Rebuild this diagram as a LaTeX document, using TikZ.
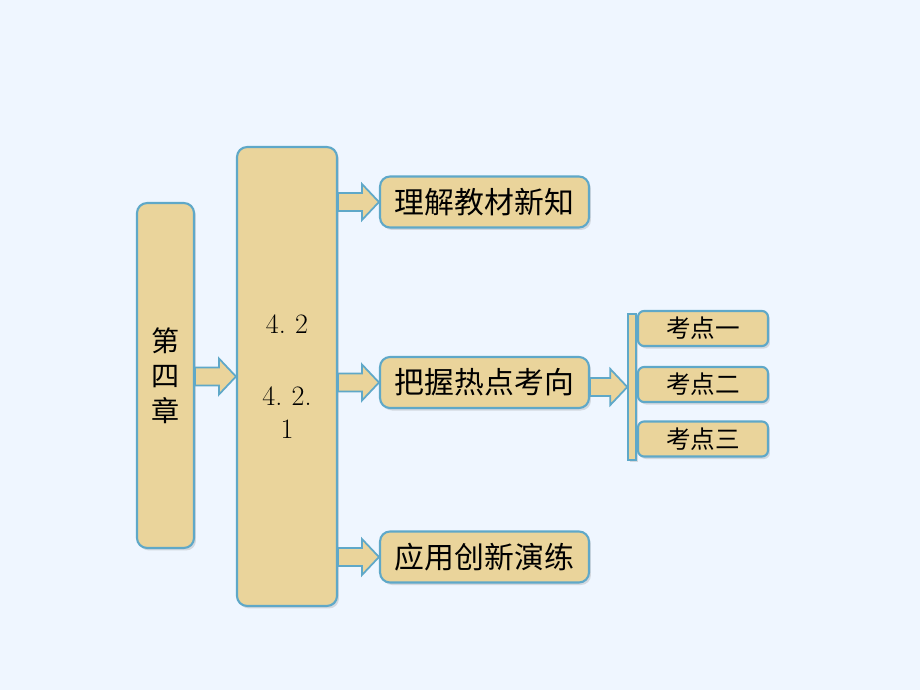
\documentclass[tikz,border=0pt]{standalone}
\usepackage{fontspec}
\newfontfamily\cjk{Noto Sans CJK SC}
\usepackage{tikz}
\usetikzlibrary{calc,shadows,positioning}

\definecolor{paper}{RGB}{234,212,155}
\definecolor{rim}{RGB}{95,168,200}
\definecolor{sky}{RGB}{239,246,255}

\tikzset{
  box/.style={draw=rim, fill=paper, line width=1.2pt, rounded corners=0.2cm,
    drop shadow={opacity=0.25, shadow xshift=0.04cm, shadow yshift=-0.05cm},
    inner sep=0pt, align=center},
  smallbox/.style={box, rounded corners=0.12cm, minimum width=2.6cm, minimum height=0.7cm,
    font=\cjk\fontsize{14}{16}\selectfont},
  topicbox/.style={box, minimum width=4.18cm, minimum height=1.02cm,
    font=\cjk\fontsize{17}{20}\selectfont},
  arrowbox/.style={draw=rim, fill=paper, line width=1pt, line join=miter}
}

% fat arrow from one node to the next
\newcommand{\fatarrow}[2]{%
  \draw[arrowbox] let \p1=(#1.east), \p2=(#2.west) in
    (\x1,\y2+0.18cm) -- (\x2-0.34cm,\y2+0.18cm) -- (\x2-0.34cm,\y2+0.36cm)
    -- (\x2,\y2) -- (\x2-0.34cm,\y2-0.36cm) -- (\x2-0.34cm,\y2-0.18cm)
    -- (\x1,\y2-0.18cm) -- cycle;}

\begin{document}
\begin{tikzpicture}[x=0.02cm,y=-0.02cm]
	\fill[sky] (0,0) rectangle (920,690);
	\useasboundingbox (0,0) rectangle (920,690);

	\node[box, minimum width=1.14cm, minimum height=6.9cm, font=\cjk\fontsize{16}{20}\selectfont] (chap) at (165.5,375.5) {第\\四\\章};
	\node[box, minimum width=2cm, minimum height=9.18cm, font=\fontsize{16}{19}\selectfont] (sec) at (287,376.5) {4.\,\,2\\[22pt]4.\,\,2.\\1};

	\node[topicbox] (learn) at (484.5,202) {理解教材新知};
	\node[topicbox] (hot) at (484.5,382.5) {把握热点考向};
	\node[topicbox] (drill) at (484.5,557) {应用创新演练};

	\node[box, rounded corners=0pt, line width=0.8pt, minimum width=0.16cm, minimum height=2.92cm] (bar) at (632,387) {};

	\node[smallbox] (k1) at (703,328.5) {考点一};
	\node[smallbox] (k2) at (703,384.5) {考点二};
	\node[smallbox] (k3) at (703,439) {考点三};

	\fatarrow{chap}{sec}
	\fatarrow{sec}{learn}
	\fatarrow{sec}{hot}
	\fatarrow{sec}{drill}
	\fatarrow{hot}{bar}
\end{tikzpicture}
\end{document}
